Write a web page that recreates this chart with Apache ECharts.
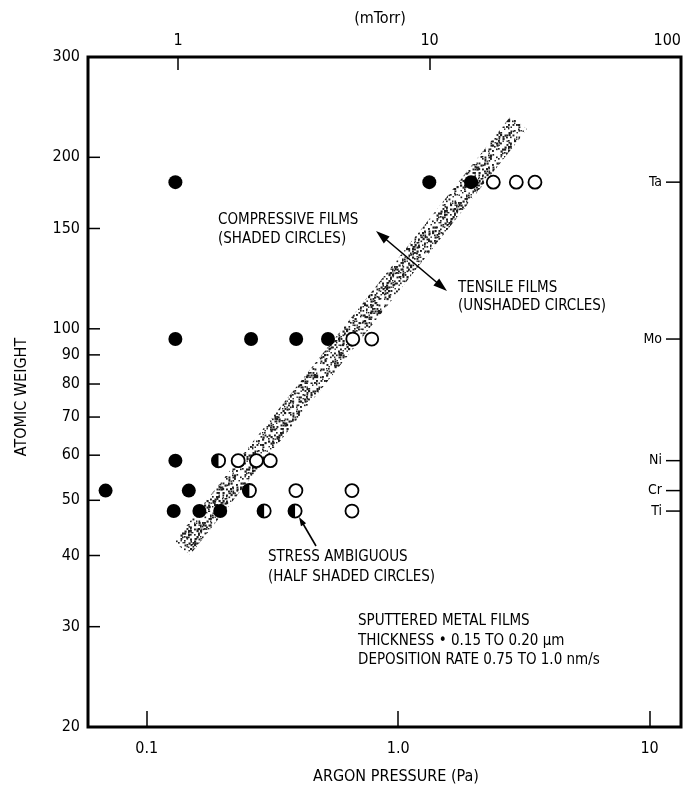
<!DOCTYPE html>
<html><head><meta charset="utf-8">
<script src="https://cdn.jsdelivr.net/npm/echarts@6/dist/echarts.min.js"></script>
<style>html,body{margin:0;padding:0;background:#fff}#c{width:684px;height:794px}</style>
</head><body><div id="c"></div>
<script>
// ---- axis ranges & ticks ----
const PA_PER_MTORR = 0.133322;
const xMinPa = 0.0584, xMaxPa = 13.3322;
const yMin = 20, yMax = 300;
const xTickValues = [0.1, 1, 10];
const xTickLabels = ['0.1', '1.0', '10'];
const topTickValues = [1, 10, 100];
const topTickLabels = ['1', '10', '100'];
const yTickValues = [20, 30, 40, 50, 60, 70, 80, 90, 100, 150, 200, 300];
const yTickLabels = ['20', '30', '40', '50', '60', '70', '80', '90', '100', '150', '200', '300'];

// ---- elements (right side markers) ----
const elementNames = ['Ta', 'Mo', 'Ni', 'Cr', 'Ti'];
const elementWeights = [180.9, 95.95, 58.69, 52.0, 47.87];

// ---- data: [argon pressure (Pa), atomic weight] ----
const compressive = [
  [0.130, 180.9], [1.33, 180.9], [1.95, 180.9],
  [0.130, 95.95], [0.26, 95.95], [0.393, 95.95], [0.526, 95.95],
  [0.130, 58.69],
  [0.0686, 52.0], [0.147, 52.0],
  [0.128, 47.87], [0.162, 47.87], [0.196, 47.87]
];
const tensile = [
  [2.39, 180.9], [2.95, 180.9], [3.5, 180.9],
  [0.66, 95.95], [0.785, 95.95],
  [0.231, 58.69], [0.273, 58.69], [0.31, 58.69],
  [0.392, 52.0], [0.655, 52.0],
  [0.655, 47.87]
];
const ambiguous = [
  [0.193, 58.69],
  [0.256, 52.0],
  [0.293, 47.87], [0.389, 47.87]
];
// transition band: start and end (Pa, atomic weight)
const bandStart = [0.138, 41.2];
const bandEnd = [3.02, 230];

// ---- styling ----
const FONT = '"Liberation Sans Narrow","DejaVu Sans Condensed","Arial Narrow",sans-serif';

function cellHash(x, y) {
  let h = (Math.imul(x, 374761393) + Math.imul(y, 668265263)) | 0;
  h = Math.imul(h ^ (h >>> 13), 1274126177);
  h ^= h >>> 16;
  return h >>> 0;
}
function makeStipple() {
  const S = 64;
  const c = document.createElement('canvas');
  c.width = S; c.height = S;
  const g = c.getContext('2d');
  g.fillStyle = '#1e1e1e';
  for (let y = 0; y < S; y += 2) {
    for (let x = 0; x < S; x += 2) {
      const h = cellHash(x + 11, y + 29);
      if ((h % 100) < 50) {
        const w = 1.4 + ((h >>> 8) & 3) * 0.25;
        g.fillRect(x + ((h >>> 12) & 1) * 0.5, y + ((h >>> 14) & 1) * 0.5, w, w);
      }
    }
  }
  return c;
}
const stipple = makeStipple();

function isTick(v, list) {
  return list.findIndex(t => Math.abs(Math.log10(v / t)) < 1e-6);
}

const chart = echarts.init(document.getElementById('c'), null, {renderer: 'canvas'});

function arrowHead(tx, ty, fx, fy, len, hw) {
  const dx = tx - fx, dy = ty - fy, L = Math.hypot(dx, dy);
  const ux = dx / L, uy = dy / L;
  const bx = tx - ux * len, by = ty - uy * len;
  return {
    type: 'polygon',
    shape: {points: [[tx, ty], [bx - uy * hw, by + ux * hw], [bx + uy * hw, by - ux * hw]]},
    style: {fill: '#000'}
  };
}

const textStyle = (text, x, y, extra) => Object.assign({
  type: 'text',
  style: Object.assign({text, x, y, font: '15px ' + FONT, fill: '#000', verticalAlign: 'middle', align: 'left'}, extra || {})
});

const graphics = [
  textStyle('(mTorr)', 380, 19, {align: 'center', font: '16px ' + FONT}),
  textStyle('ARGON PRESSURE (Pa)', 396, 777, {align: 'center', font: '16px ' + FONT}),
  {type: 'text', x: 22, y: 397, rotation: Math.PI / 2,
    style: {text: 'ATOMIC WEIGHT', x: 0, y: 0, align: 'center', verticalAlign: 'middle', font: '16px ' + FONT, fill: '#000'}},
  textStyle('COMPRESSIVE FILMS', 218, 220),
  textStyle('(SHADED CIRCLES)', 218, 239),
  textStyle('TENSILE FILMS', 458, 288),
  textStyle('(UNSHADED CIRCLES)', 458, 306),
  textStyle('STRESS AMBIGUOUS', 268, 557),
  textStyle('(HALF SHADED CIRCLES)', 268, 577),
  textStyle('SPUTTERED METAL FILMS', 358, 621),
  textStyle('THICKNESS \u2022 0.15 TO 0.20 \u03bcm', 358, 641),
  textStyle('DEPOSITION RATE 0.75 TO 1.0 nm/s', 358, 660),
  // double arrow across the band
  {type: 'line', shape: {x1: 382, y1: 236, x2: 441, y2: 286}, style: {stroke: '#000', lineWidth: 1.6}, z: 5},
  Object.assign(arrowHead(376, 231, 446, 290, 14, 4.5), {z: 5}),
  Object.assign(arrowHead(447, 291, 376, 231, 14, 4.5), {z: 5}),
  // stress ambiguous arrow
  {type: 'line', shape: {x1: 316, y1: 546, x2: 302, y2: 522}, style: {stroke: '#000', lineWidth: 1.6}, z: 5},
  Object.assign(arrowHead(299, 517, 316, 546, 9, 3), {z: 5})
];

const option = {
  animation: false,
  backgroundColor: '#fff',
  textStyle: {fontFamily: FONT},
  grid: {left: 88, right: 2, top: 57, bottom: 67, show: true, borderColor: '#000', borderWidth: 3, backgroundColor: 'transparent'},
  xAxis: [
    {
      type: 'log', logBase: 10, min: xMinPa, max: xMaxPa, position: 'bottom',
      axisLine: {show: false},
      axisTick: {show: true, inside: true, length: 16, lineStyle: {color: '#000', width: 1.5}},
      axisLabel: {
        margin: 14, fontSize: 16, color: '#000', fontFamily: FONT,
        formatter: v => { const i = isTick(v, xTickValues); return i >= 0 ? xTickLabels[i] : ''; }
      },
      splitLine: {show: false}
    },
    {
      type: 'log', logBase: 10, min: xMinPa / PA_PER_MTORR, max: 100, position: 'top',
      axisLine: {show: false},
      axisTick: {show: true, inside: true, length: 13, lineStyle: {color: '#000', width: 1.5}},
      axisLabel: {
        margin: 8, fontSize: 16, color: '#000', fontFamily: FONT, alignMaxLabel: 'right',
        formatter: v => { const i = isTick(v, topTickValues); return i >= 0 ? topTickLabels[i] : ''; }
      },
      splitLine: {show: false}
    }
  ],
  yAxis: [{
    type: 'log', logBase: 10, min: yMin, max: yMax,
    axisLine: {show: false}, axisTick: {show: false}, axisLabel: {show: false}, splitLine: {show: false}
  }],
  series: [
    {
      type: 'custom', name: 'band', silent: true, z: 1,
      data: [[bandStart[0], bandStart[1], bandEnd[0], bandEnd[1]]],
      encode: {x: [0, 2], y: [1, 3]},
      renderItem: (params, api) => {
        const p1 = api.coord([api.value(0), api.value(1)]);
        const p2 = api.coord([api.value(2), api.value(3)]);
        const dx = p2[0] - p1[0], dy = p2[1] - p1[1], L = Math.hypot(dx, dy);
        const hw = 10.5;
        const nx = -dy / L * hw, ny = dx / L * hw;
        return {
          type: 'polygon',
          shape: {points: [[p1[0] + nx, p1[1] + ny], [p2[0] + nx, p2[1] + ny], [p2[0] - nx, p2[1] - ny], [p1[0] - nx, p1[1] - ny]]},
          style: {fill: {image: stipple, repeat: 'repeat'}}
        };
      }
    },
    {
      type: 'custom', name: 'yTicks', silent: true, z: 3,
      data: yTickValues.map(v => [1, v]),
      renderItem: (params, api) => {
        const y = api.coord([1, api.value(1)])[1];
        const x0 = params.coordSys.x;
        return {
          type: 'group', children: [
            {type: 'line', shape: {x1: x0, y1: y, x2: x0 + 12, y2: y}, style: {stroke: '#000', lineWidth: 1.5}},
            {type: 'text', style: {text: yTickLabels[params.dataIndex], x: x0 - 8, y: y, align: 'right', verticalAlign: 'middle', font: '16px ' + FONT, fill: '#000'}}
          ]
        };
      }
    },
    {
      type: 'custom', name: 'elements', silent: true, z: 3,
      data: elementWeights.map(w => [1, w]),
      renderItem: (params, api) => {
        const y = api.coord([1, api.value(1)])[1];
        const xr = params.coordSys.x + params.coordSys.width;
        return {
          type: 'group', children: [
            {type: 'line', shape: {x1: xr - 15, y1: y, x2: xr, y2: y}, style: {stroke: '#000', lineWidth: 1.5}},
            {type: 'text', style: {text: elementNames[params.dataIndex], x: xr - 19, y: y, align: 'right', verticalAlign: 'middle', font: '14px ' + FONT, fill: '#000'}}
          ]
        };
      }
    },
    {
      type: 'scatter', name: 'Compressive', silent: true, z: 4,
      data: compressive, symbol: 'circle', symbolSize: 14,
      itemStyle: {color: '#000', opacity: 1}
    },
    {
      type: 'scatter', name: 'Tensile', silent: true, z: 4,
      data: tensile, symbol: 'circle', symbolSize: 13,
      itemStyle: {color: '#fff', borderColor: '#000', borderWidth: 1.8, opacity: 1}
    },
    {
      type: 'custom', name: 'Ambiguous', silent: true, z: 4,
      data: ambiguous,
      renderItem: (params, api) => {
        const p = api.coord([api.value(0), api.value(1)]);
        const r = 6.6;
        return {
          type: 'group', children: [
            {type: 'circle', shape: {cx: p[0], cy: p[1], r: r}, style: {fill: '#fff', stroke: '#000', lineWidth: 1.8}},
            {type: 'sector', shape: {cx: p[0], cy: p[1], r0: 0, r: r, startAngle: Math.PI / 2, endAngle: Math.PI * 1.5, clockwise: true}, style: {fill: '#000'}}
          ]
        };
      }
    }
  ],
  graphic: graphics
};
chart.setOption(option);
</script>
</body></html>
